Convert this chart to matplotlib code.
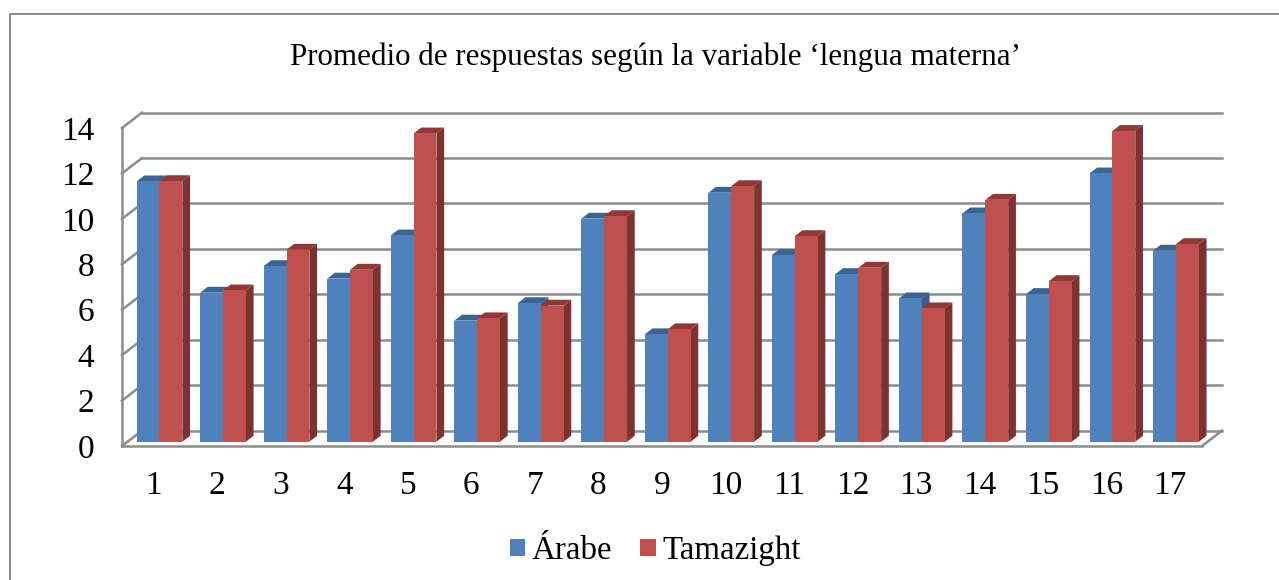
import matplotlib

matplotlib.use("Agg")
import matplotlib.pyplot as plt
import numpy as np
from matplotlib.patches import Polygon, Rectangle
from matplotlib.transforms import Affine2D

categories = list(range(1, 18))
arabe = [11.46, 6.56, 7.73, 7.18, 9.08, 5.33, 6.10, 9.82, 4.73, 10.96, 8.22, 7.38, 6.31, 10.05, 6.50, 11.81, 8.41]
tamazight = [11.47, 6.66, 8.45, 7.57, 13.57, 5.43, 5.99, 9.93, 4.95, 11.25, 9.05, 7.66, 5.87, 10.65, 7.07, 13.68, 8.70]
y_ticks = [0, 2, 4, 6, 8, 10, 12, 14]

W, H = 1279, 580
GRID = "#8c8c8c"
SERIES = [
    ("Árabe", arabe, "#4f81bd", "#3a6592", "#385d8a"),
    ("Tamazight", tamazight, "#c0504d", "#8f3836", "#7d3230"),
]
BAR_W = 0.36
WALL = (20, 15.4)
BAR_SHIFT = (5.7, 4.3)
BAR_DEPTH = (7.7, 5.9)

plt.rcParams["font.family"] = ["Liberation Serif", "DejaVu Serif"]

fig = plt.figure(figsize=(W / 100, H / 100), dpi=100, facecolor="white")
ax = fig.add_axes([122 / W, (H - 446) / H, 1080 / W, 318 / H])
ax.set_xlim(0.5, 17.5)
ax.set_ylim(0, 14)
ax.patch.set_visible(False)

for name in ["top", "right"]:
    ax.spines[name].set_visible(False)
for name in ["left", "bottom"]:
    ax.spines[name].set_color(GRID)
    ax.spines[name].set_linewidth(1.8)

ax.set_xticks(categories, [str(c) for c in categories], fontsize=24)
ax.set_yticks(y_ticks, [str(v) for v in y_ticks], fontsize=24)
ax.tick_params(axis="both", length=0, colors="black")
ax.tick_params(axis="x", pad=18)
ax.tick_params(axis="y", pad=20)

# back wall and floor
wall_tr = ax.transData + Affine2D().translate(*WALL)
for v in y_ticks:
    ax.plot([0.5, 17.5], [v, v], color=GRID, lw=1.8, transform=wall_tr, zorder=1, clip_on=False)
    x0, y0 = ax.transData.transform((0.5, v))
    ax.plot([x0, x0 + WALL[0]], [y0, y0 + WALL[1]], color=GRID, lw=1.8, transform=None, zorder=1, clip_on=False)
x1, y1 = ax.transData.transform((17.5, 0))
ax.plot([x1, x1 + WALL[0]], [y1, y1 + WALL[1]], color=GRID, lw=1.8, transform=None, zorder=1, clip_on=False)

bar_tr = ax.transData + Affine2D().translate(*BAR_SHIFT)
handles = []
for s, (label, values, front, top, side) in enumerate(SERIES):
    xs = np.array(categories) + (s - 1) * BAR_W
    bars = ax.bar(xs, values, BAR_W, align="edge", color=front, linewidth=0,
                  transform=bar_tr, zorder=4 + 2 * s, label=label, clip_on=False)
    handles.append(bars)
    for x, v in zip(xs, values):
        (xl, yb), (xr, yt) = bar_tr.transform([(x, 0), (x + BAR_W, v)])
        dx, dy = BAR_DEPTH
        ax.add_patch(Polygon([(xl, yt), (xr, yt), (xr + dx, yt + dy), (xl + dx, yt + dy)],
                             closed=True, facecolor=top, linewidth=0, transform=None,
                             zorder=3 + 2 * s, clip_on=False))
        ax.add_patch(Polygon([(xr, yb), (xr + dx, yb + dy), (xr + dx, yt + dy), (xr, yt)],
                             closed=True, facecolor=side, linewidth=0, transform=None,
                             zorder=3 + 2 * s, clip_on=False))

fig.text(655 / W, (H - 57) / H, "Promedio de respuestas según la variable ‘lengua materna’",
         ha="center", va="center", fontsize=22.3, color="black")

fig.legend(handles=handles, loc="center", bbox_to_anchor=(655.5 / W, (H - 551) / H), ncol=2,
           frameon=False, fontsize=23.7, handlelength=0.48, handleheight=0.46,
           handletextpad=0.2, columnspacing=0.85, borderpad=0)

# chart frame runs off the right and bottom of the crop
fig.add_artist(Rectangle((9.5 / W, -1), 2, 1 + (H - 14) / H, transform=fig.transFigure,
                         facecolor="none", edgecolor="#868686", linewidth=1.3))

fig.savefig("out.png", dpi=100, facecolor="white")
